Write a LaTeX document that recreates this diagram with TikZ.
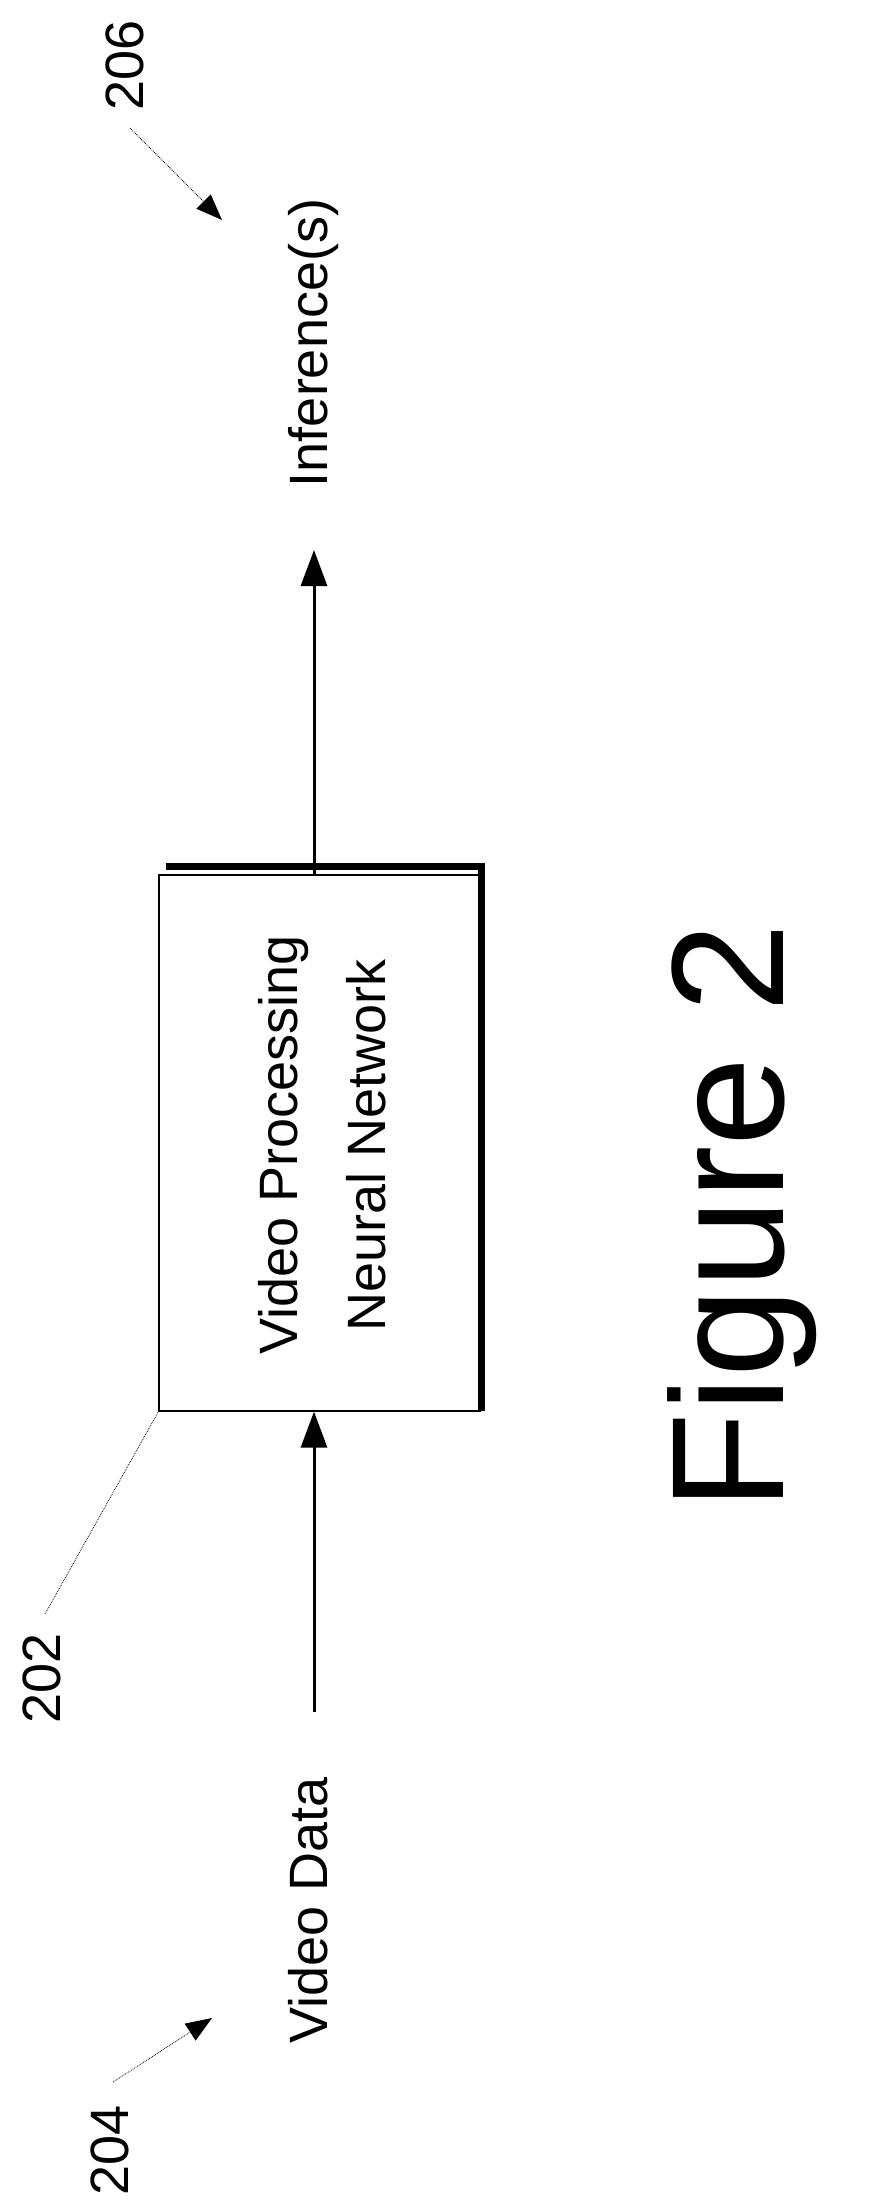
\documentclass[tikz,border=0pt]{standalone}
\usepackage{fontspec}
\setmainfont{Liberation Sans}
\usetikzlibrary{arrows.meta}
\begin{document}
\begin{tikzpicture}[x=1pt,y=-1pt,
    lbl/.style={font=\fontsize{54}{62}\selectfont,rotate=90,inner sep=0},
    flow/.style={line width=3pt,-{Triangle[length=36pt,width=26pt]}},
    refline/.style={line width=0.8pt,densely dotted},
    refarrow/.style={refline,-{Triangle[length=26pt,width=20pt]}}]

    % 边界
    \useasboundingbox (0,0) rectangle (886,2209);

    % 方框及其粗边
    \node[draw,line width=1.2pt,minimum width=321pt,minimum height=536pt,inner sep=0] (vpnn) at (319.5,1143) {};
    \draw[line width=7pt] (166,866) -- (481,866) -- (481,1411); % 阴影边
    \node[lbl,align=center,font=\fontsize{54}{88}\selectfont] (vpnntext) at (322,1145) {Video Processing\\Neural Network};

    % 输入与输出
    \node[lbl] (vdata) at (308,1910) {Video Data};
    \node[lbl] (infer) at (314,343) {Inference(s)};
    \coordinate (instart) at (314,1712);
    \coordinate (outend) at (314,550);
    \draw[flow] (instart) -- (vpnn.south -| instart);
    \draw[flow] (vpnn.north -| outend) -- (outend);

    % 标号
    \node[lbl] (n202) at (42,1678) {202};
    \node[lbl] (n204) at (110,2150) {204};
    \node[lbl] (n206) at (125,65) {206};
    \draw[refline] (45,1614) -- (vpnn.south west);
    \draw[refarrow] (113,2082) -- (212,2018);
    \draw[refarrow] (130,128) -- (222,220);

    % 图名
    \node[lbl,font=\fontsize{160}{170}\selectfont] (fig) at (742,1217) {Figure 2};

\end{tikzpicture}
\end{document}
